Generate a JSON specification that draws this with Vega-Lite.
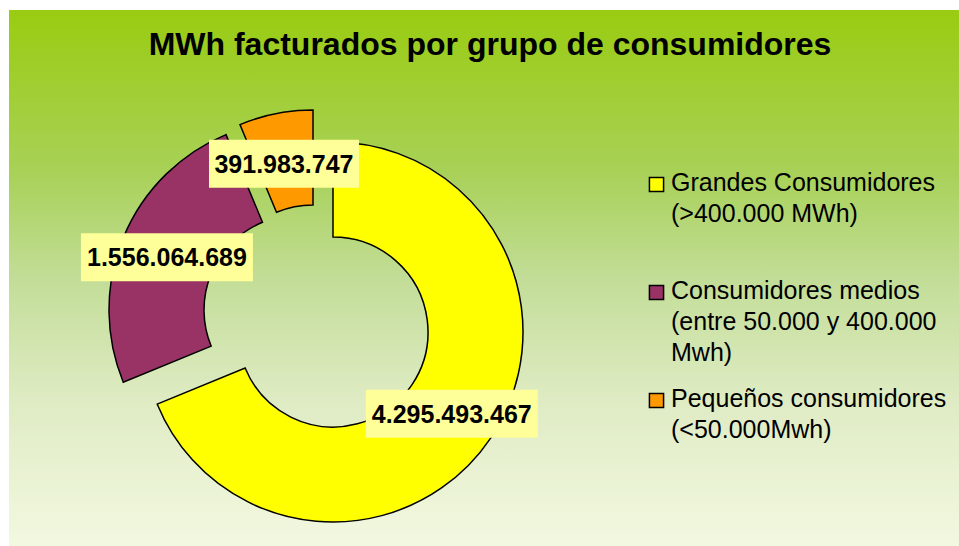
{
  "$schema": "https://vega.github.io/schema/vega-lite/v6.json",
  "width": 950,
  "height": 536,
  "padding": {"left": 9, "top": 10, "right": 0, "bottom": 0},
  "autosize": {"type": "none"},
  "background": "white",
  "config": {
    "font": "Liberation Sans",
    "locale": {"number": {"decimal": ",", "thousands": ".", "grouping": [3], "currency": ["", ""]}},
    "view": {"stroke": null}
  },
  "title": {
    "text": "MWh facturados por grupo de consumidores",
    "fontSize": 32,
    "fontWeight": "bold",
    "color": "black",
    "anchor": "middle",
    "baseline": "alphabetic",
    "offset": -47,
    "dx": 6,
    "dy": 30
  },
  "data": {
    "values": [
      {"grupo": "Grandes Consumidores\n(>400.000 MWh)", "mwh": 4295493467},
      {"grupo": "Consumidores medios\n(entre 50.000 y 400.000\nMwh)", "mwh": 1556064689},
      {"grupo": "Pequeños consumidores\n(<50.000Mwh)", "mwh": 391983747}
    ]
  },
  "transform": [
    {"stack": "mwh", "groupby": [], "as": ["start", "end"]},
    {"joinaggregate": [{"op": "sum", "field": "mwh", "as": "total"}]}
  ],
  "layer": [
    {
      "transform": [{"filter": "datum.mwh == 4295493467"}],
      "mark": {
        "type": "rect",
        "fill": {
          "gradient": "linear", "x1": 0, "y1": 0, "x2": 0, "y2": 1,
          "stops": [
            {"offset": 0, "color": "#99CC11"},
            {"offset": 0.3, "color": "#A8D157"},
            {"offset": 0.5, "color": "#C2DD97"},
            {"offset": 0.72, "color": "#DEEBC2"},
            {"offset": 1, "color": "#F3F8E1"}
          ]
        }
      },
      "encoding": {}
    },
    {
      "transform": [{"filter": "datum.mwh == 4295493467"}],
      "mark": {"type": "arc", "x": 324, "y": 322, "outerRadius": 190, "innerRadius": 95, "stroke": "black", "strokeWidth": 1.5},
      "encoding": {
        "theta": {"field": "start", "type": "quantitative", "scale": {"domain": [0, 6243541903]}},
        "theta2": {"field": "end"},
        "color": {
          "field": "grupo",
          "type": "nominal",
          "scale": {
            "domain": [
              "Grandes Consumidores\n(>400.000 MWh)",
              "Consumidores medios\n(entre 50.000 y 400.000\nMwh)",
              "Pequeños consumidores\n(<50.000Mwh)"
            ],
            "range": ["#FFFF00", "#993366", "#FF9900"]
          },
          "legend": {
            "orient": "none",
            "legendX": 635,
            "legendY": 162,
            "title": null,
            "padding": 0,
            "symbolType": "square",
            "symbolSize": 200,
            "symbolStrokeColor": "black",
            "symbolStrokeWidth": 1.5,
            "labelFontSize": 25,
            "labelColor": "black",
            "labelLimit": 400,
            "labelOffset": 2,
            "labelBaseline": "top",
            "rowPadding": 20,
            "labelExpr": "split(datum.label + (datum.index === 0 ? '\\n ' : ''), '\\n')",
            "encode": {"labels": {"update": {"lineHeight": {"value": 31}, "dy": {"value": -14}}}}
          }
        }
      }
    },
    {
      "transform": [{"filter": "datum.mwh == 1556064689"}],
      "mark": {"type": "arc", "x": 324, "y": 322, "xOffset": -34, "yOffset": -22, "outerRadius": 190, "innerRadius": 95, "stroke": "black", "strokeWidth": 1.5},
      "encoding": {
        "theta": {"field": "start", "type": "quantitative"},
        "theta2": {"field": "end"},
        "color": {"field": "grupo", "type": "nominal"}
      }
    },
    {
      "transform": [{"filter": "datum.mwh == 391983747"}],
      "mark": {"type": "arc", "x": 324, "y": 322, "xOffset": -20, "yOffset": -32, "outerRadius": 190, "innerRadius": 95, "stroke": "black", "strokeWidth": 1.5},
      "encoding": {
        "theta": {"field": "start", "type": "quantitative"},
        "theta2": {"field": "end"},
        "color": {"field": "grupo", "type": "nominal"}
      }
    },
    {
      "transform": [{"filter": "datum.mwh == 4295493467"}],
      "mark": {
        "type": "rect", "fill": "#FFFF99",
        "x": {"expr": "324 + 143*sin(PI*(datum.start+datum.end)/datum.total) - 86"},
        "x2": {"expr": "324 + 143*sin(PI*(datum.start+datum.end)/datum.total) + 86"},
        "y": {"expr": "324 - 143*cos(PI*(datum.start+datum.end)/datum.total) - 24"},
        "y2": {"expr": "324 - 143*cos(PI*(datum.start+datum.end)/datum.total) + 24"}
      },
      "encoding": {}
    },
    {
      "transform": [{"filter": "datum.mwh == 1556064689"}],
      "mark": {
        "type": "rect", "fill": "#FFFF99",
        "x": {"expr": "290 + 143*sin(PI*(datum.start+datum.end)/datum.total) - 86"},
        "x2": {"expr": "290 + 143*sin(PI*(datum.start+datum.end)/datum.total) + 86"},
        "y": {"expr": "302 - 143*cos(PI*(datum.start+datum.end)/datum.total) - 24"},
        "y2": {"expr": "302 - 143*cos(PI*(datum.start+datum.end)/datum.total) + 24"}
      },
      "encoding": {}
    },
    {
      "transform": [{"filter": "datum.mwh == 391983747"}],
      "mark": {
        "type": "rect", "fill": "#FFFF99",
        "x": {"expr": "303 + 143*sin(PI*(datum.start+datum.end)/datum.total) - 75"},
        "x2": {"expr": "303 + 143*sin(PI*(datum.start+datum.end)/datum.total) + 75"},
        "y": {"expr": "294 - 143*cos(PI*(datum.start+datum.end)/datum.total) - 24"},
        "y2": {"expr": "294 - 143*cos(PI*(datum.start+datum.end)/datum.total) + 24"}
      },
      "encoding": {}
    },
    {
      "transform": [{"filter": "datum.mwh == 4295493467"}],
      "mark": {
        "type": "text", "fontSize": 25, "fontWeight": "bold", "align": "center", "baseline": "middle", "dy": 1, "color": "black",
        "x": {"expr": "324 + 143*sin(PI*(datum.start+datum.end)/datum.total)"},
        "y": {"expr": "324 - 143*cos(PI*(datum.start+datum.end)/datum.total)"}
      },
      "encoding": {"text": {"field": "mwh", "format": ",d"}}
    },
    {
      "transform": [{"filter": "datum.mwh == 1556064689"}],
      "mark": {
        "type": "text", "fontSize": 25, "fontWeight": "bold", "align": "center", "baseline": "middle", "dy": 1, "color": "black",
        "x": {"expr": "290 + 143*sin(PI*(datum.start+datum.end)/datum.total)"},
        "y": {"expr": "302 - 143*cos(PI*(datum.start+datum.end)/datum.total)"}
      },
      "encoding": {"text": {"field": "mwh", "format": ",d"}}
    },
    {
      "transform": [{"filter": "datum.mwh == 391983747"}],
      "mark": {
        "type": "text", "fontSize": 25, "fontWeight": "bold", "align": "center", "baseline": "middle", "dy": 1, "color": "black",
        "x": {"expr": "303 + 143*sin(PI*(datum.start+datum.end)/datum.total)"},
        "y": {"expr": "294 - 143*cos(PI*(datum.start+datum.end)/datum.total)"}
      },
      "encoding": {"text": {"field": "mwh", "format": ",d"}}
    }
  ]
}
